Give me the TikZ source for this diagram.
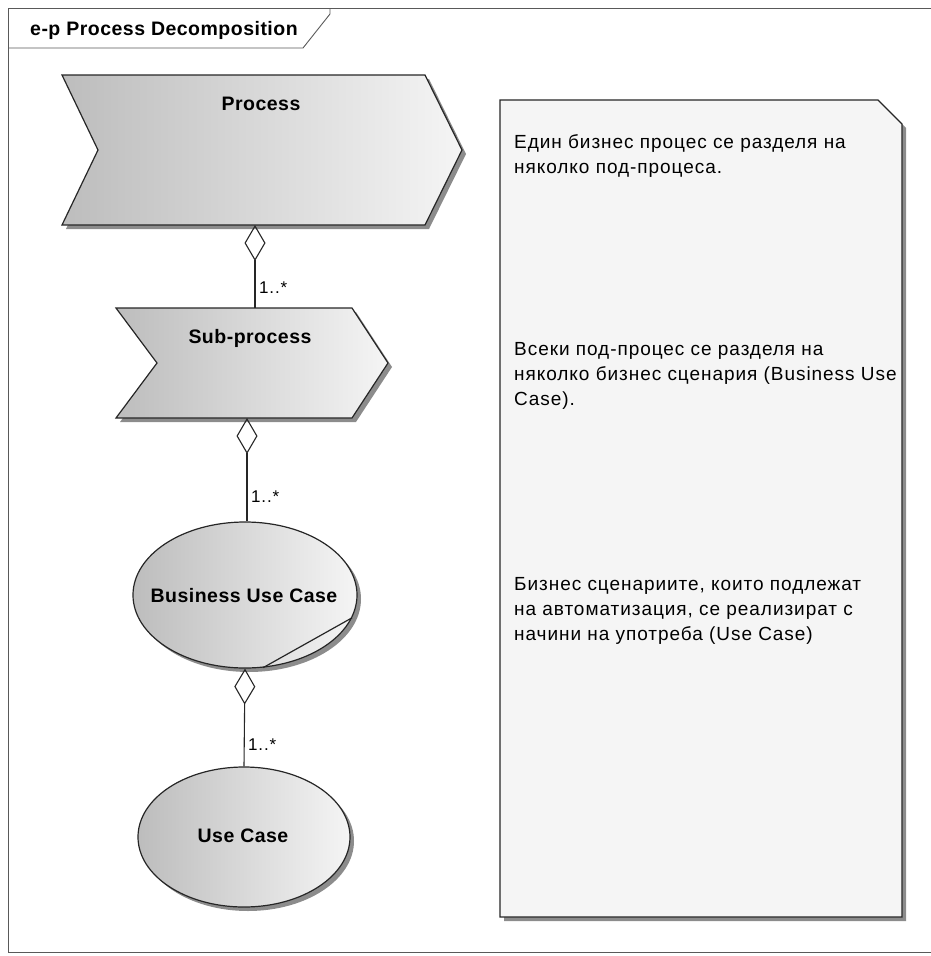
\documentclass[tikz,border=0pt]{standalone}
\usepackage{fontspec}
\setmainfont{Liberation Sans}
\newfontfamily\notefont{Liberation Sans}[LetterSpace=5]
\newfontfamily\headfont{Liberation Sans}[LetterSpace=2.5]
\usetikzlibrary{arrows.meta,shapes.geometric,shadows}

\tikzset{
  outline/.style={draw=black!85, line width=1.2pt},
  grayfill/.style={left color=black!26, right color=black!4},
  shapeshadow/.style={drop shadow={shadow xshift=4pt, shadow yshift=-4pt, fill=black!45, opacity=1}},
  chevron/.style={outline, grayfill, shapeshadow},
  usecase/.style={ellipse, outline, grayfill, shapeshadow, inner sep=0pt},
  boldtext/.style={font=\headfont\bfseries\fontsize{19.5}{22}\selectfont, inner sep=0pt, anchor=base},
  mult/.style={font=\notefont\fontsize{17}{18}\selectfont, anchor=west, inner sep=0pt},
  agg/.style={draw=black!85, line width=1.1pt, {Diamond[open,length=36pt,width=21pt]}-},
  noteline/.style={anchor=base west, inner sep=0pt, font=\notefont\fontsize{19}{22}\selectfont},
  framestyle/.style={draw=black!65, line width=0.9pt},
  notebox/.style={outline, fill=black!4, shapeshadow},
}

\begin{document}
\begin{tikzpicture}[x=1pt, y=-1pt]
  \useasboundingbox (0,0) rectangle (931,956);

  % diagram frame with its name tab
  \draw[framestyle] (945,8) -- (8,8) -- (8,952) -- (945,952);
  \draw[framestyle] (8,48) -- (303,48) -- (330,14) -- (330,8);
  \node[font=\headfont\bfseries\fontsize{19.5}{22}\selectfont, anchor=base west, inner sep=0pt]
    (title) at (30,35) {e-p Process Decomposition};

  % process chevrons
  \draw[chevron] (62,75) -- (425,75) -- (462,150) -- (425,225) -- (62,225) -- (98,150) -- cycle;
  \node[boldtext] (proc) at (261,110) {Process};
  \coordinate (proc-b) at (255,225);
  \coordinate (sub-t) at (255,308);

  \draw[chevron] (116,308) -- (352,308) -- (388,363) -- (352,418) -- (116,418) -- (157,363) -- cycle;
  \node[boldtext] (sub) at (250,343) {Sub-process};
  \coordinate (sub-b) at (247,418);

  % use case ellipses, with their names set on top
  \node[usecase, minimum width=224pt, minimum height=146pt] (buc) at (245,595) {};
  \draw[outline] (buc.-12) -- (buc.-76);
  \node[boldtext] (buc-name) at (244,602) {Business Use Case};
  \node[usecase, minimum width=212pt, minimum height=140pt] (uc) at (244,837) {};
  \node[boldtext] (uc-name) at (243,842) {Use Case};

  % aggregations
  \draw[agg] (proc-b) -- (sub-t);
  \node[mult] (m1) at (259,288) {1..*};
  \draw[agg] (sub-b) -- (sub-b |- buc.north);
  \node[mult] (m2) at (251,497) {1..*};
  \draw[agg] (buc.south) -- (uc.north);
  \node[mult] (m3) at (248,745) {1..*};

  % note
  \draw[notebox] (500,100) -- (878,100) -- (902,124) -- (902,917) -- (500,917) -- cycle;
  \node[noteline] (n1) at (514,148) {Един бизнес процес се разделя на};
  \node[noteline] (n2) at (514,173) {няколко под-процеса.};
  \node[noteline] (n3) at (514,355) {Всеки под-процес се разделя на};
  \node[noteline] (n4) at (514,380) {няколко бизнес сценария (Business Use};
  \node[noteline] (n5) at (514,405) {Case).};
  \node[noteline] (n6) at (514,590) {Бизнес сценариите, които подлежат};
  \node[noteline] (n7) at (514,615) {на автоматизация, се реализират с};
  \node[noteline] (n8) at (514,640) {начини на употреба (Use Case)};
\end{tikzpicture}
\end{document}
